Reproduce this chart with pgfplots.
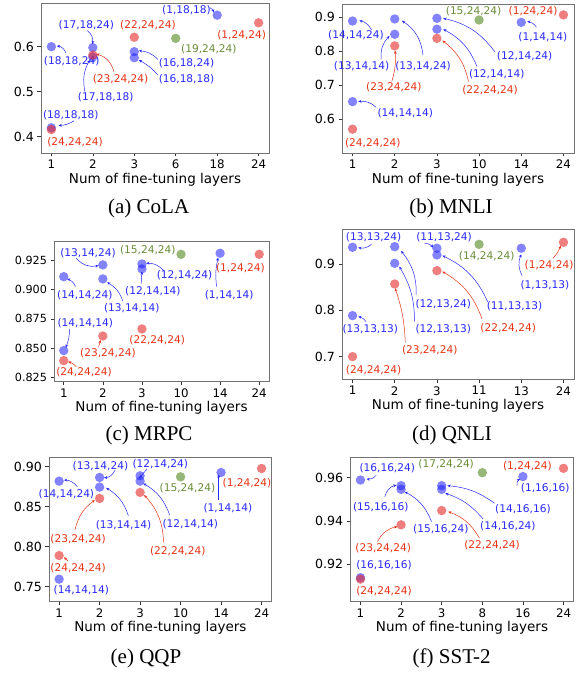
\documentclass[border=0pt]{standalone}
\usepackage{pgfplots}
\pgfplotsset{compat=1.18}
\usepackage{fontspec}
\setmainfont{DejaVu Sans}
\newfontfamily\capfont{Liberation Serif}
\usetikzlibrary{arrows.meta}
\definecolor{tblue}{RGB}{40,40,255}
\definecolor{tred}{RGB}{230,50,20}
\definecolor{tgreen}{RGB}{105,140,55}
\definecolor{pblue}{RGB}{30,30,255}
\definecolor{pred}{RGB}{228,40,40}
\definecolor{pgreen}{RGB}{80,135,30}
\newcommand{\annf}{\fontsize{10.6}{12}\selectfont}
\newcommand{\lb}[4]{\node[text=t#1,font=\annf,inner sep=0pt] at (axis cs:#2,#3) {#4};}
\newcommand{\ar}[6]{\draw[-{Stealth[length=3.2pt,width=2.8pt]},line width=0.5pt,color=t#1] (axis cs:#2,#3) to[#6] (axis cs:#4,#5);}
\pgfplotsset{
 panel/.style={scale only axis, clip=false, xmin=-0.25, xmax=5.25, xtick={0,1,2,3,4,5},
  tick pos=left, tick align=outside, major tick length=3.5pt,
  axis line style={black!55, line width=0.6pt}, major tick style={black!80, line width=0.6pt},
  xticklabel style={font=\fontsize{11.8}{12}\selectfont},
  yticklabel style={font=\fontsize{12.6}{13}\selectfont},
  xlabel={Num of fine-tuning layers},
  xlabel style={font=\fontsize{13.5}{14}\selectfont, at={(axis description cs:0.5,0)}, anchor=center, yshift=-26.5pt}},
 bp/.style={only marks, mark=*, mark size=4.7pt, color=pblue, mark options={draw opacity=0, fill=pblue, fill opacity=0.55}},
 rp/.style={only marks, mark=*, mark size=4.7pt, color=pred, mark options={draw opacity=0, fill=pred, fill opacity=0.6}},
 gp/.style={only marks, mark=*, mark size=4.7pt, color=pgreen, mark options={draw opacity=0, fill=pgreen, fill opacity=0.6}},
}
\begin{document}
\begin{tikzpicture}[x=1pt,y=1pt]
\useasboundingbox (0,0) rectangle (578,673);
% (a) CoLA
\begin{axis}[panel, at={(41pt,520pt)}, anchor=south west, width=228pt, height=150pt,
  ymin=0.364, ymax=0.697, ytick={0.4,0.5,0.6}, yticklabels={0.4,0.5,0.6},
  xticklabels={1,2,3,6,18,24}]
\addplot[bp] coordinates {(0,0.600) (0,0.420) (1,0.598) (1,0.577) (2,0.589) (2,0.5755) (4,0.670)};
\addplot[rp] coordinates {(0,0.416) (1,0.5815) (2,0.621) (5,0.653)};
\addplot[gp] coordinates {(3,0.6185)};
\lb{blue}{3.26}{0.680}{(1,18,18)}
\lb{red}{4.59}{0.626}{(1,24,24)}
\lb{red}{2.33}{0.648}{(22,24,24)}
\lb{green}{3.80}{0.594}{(19,24,24)}
\lb{blue}{0.845}{0.648}{(17,18,24)}
\lb{blue}{0.49}{0.567}{(18,18,24)}
\lb{blue}{3.26}{0.563}{(16,18,24)}
\lb{blue}{3.26}{0.527}{(16,18,18)}
\lb{red}{1.67}{0.527}{(23,24,24)}
\lb{blue}{1.31}{0.487}{(17,18,18)}
\lb{blue}{0.47}{0.448}{(18,18,18)}
\lb{red}{0.57}{0.389}{(24,24,24)}
\ar{blue}{3.82}{0.687}{3.92}{0.676}{bend left=20}
\ar{blue}{0.87}{0.6356}{0.99}{0.606}{bend left=30}
\ar{blue}{0.35}{0.5867}{0.13}{0.6015}{bend right=30}
\ar{blue}{2.57}{0.5719}{2.11}{0.591}{bend right=20}
\ar{blue}{2.57}{0.537}{2.11}{0.5704}{bend right=10}
\ar{red}{1.51}{0.5444}{1.08}{0.5837}{bend right=30}
\ar{blue}{0.81}{0.500}{0.925}{0.5704}{bend left=20}
\ar{blue}{0.55}{0.4356}{0.175}{0.4252}{bend left=15}
\end{axis}
% (b) MNLI
\begin{axis}[panel, at={(342pt,520pt)}, anchor=south west, width=232pt, height=149pt,
  ymin=0.501, ymax=0.939, ytick={0.6,0.7,0.8,0.9}, yticklabels={0.6,0.7,0.8,0.9},
  xticklabels={1,2,3,10,14,24}]
\addplot[bp] coordinates {(0,0.889) (0,0.652) (1,0.895) (1,0.850) (2,0.897) (2,0.865) (4,0.885)};
\addplot[rp] coordinates {(0,0.571) (1,0.816) (2,0.838) (5,0.907)};
\addplot[gp] coordinates {(3,0.892)};
\lb{green}{2.87}{0.919}{(15,24,24)}
\lb{red}{4.28}{0.919}{(1,24,24)}
\lb{blue}{4.51}{0.841}{(1,14,14)}
\lb{blue}{0.08}{0.848}{(14,14,24)}
\lb{blue}{4.08}{0.786}{(12,14,24)}
\lb{blue}{0.215}{0.755}{(13,14,14)}
\lb{blue}{1.67}{0.755}{(13,14,24)}
\lb{blue}{3.42}{0.733}{(12,14,14)}
\lb{red}{0.98}{0.694}{(23,24,24)}
\lb{red}{3.26}{0.686}{(22,24,24)}
\lb{blue}{1.25}{0.618}{(14,14,14)}
\lb{red}{0.48}{0.531}{(24,24,24)}
\ar{blue}{4.36}{0.8706}{4.14}{0.8873}{bend right=25}
\ar{blue}{0.45}{0.8627}{0.16}{0.8902}{bend right=25}
\ar{blue}{3.37}{0.799}{2.15}{0.897}{bend right=20}
\ar{blue}{0.68}{0.7765}{0.876}{0.845}{bend left=25}
\ar{blue}{1.67}{0.789}{1.17}{0.890}{bend right=25}
\ar{blue}{2.95}{0.7549}{2.15}{0.8647}{bend right=20}
\ar{red}{0.93}{0.7108}{1.01}{0.802}{bend right=10}
\ar{red}{2.75}{0.7108}{2.13}{0.8314}{bend right=20}
\ar{blue}{0.56}{0.6353}{0.135}{0.652}{bend right=25}
\end{axis}
% (c) MRPC
\begin{axis}[panel, at={(54pt,291.3pt)}, anchor=south west, width=215pt, height=140pt,
  ymin=0.8216, ymax=0.9405, ytick={0.825,0.85,0.875,0.9,0.925}, yticklabels={0.825,0.850,0.875,0.900,0.925},
  yticklabel style={font=\fontsize{11.2}{12}\selectfont},
  xticklabels={1,2,3,10,14,24}]
\addplot[bp] coordinates {(0,0.9108) (0,0.848) (1,0.9208) (1,0.9089) (2,0.9216) (2,0.9174) (4,0.9307)};
\addplot[rp] coordinates {(0,0.8395) (1,0.8604) (2,0.8664) (5,0.9298)};
\addplot[gp] coordinates {(3,0.9298)};
\lb{blue}{0.62}{0.9307}{(13,14,24)}
\lb{green}{2.15}{0.9335}{(15,24,24)}
\lb{red}{4.52}{0.9179}{(1,24,24)}
\lb{blue}{3.09}{0.9123}{(12,14,24)}
\lb{blue}{4.23}{0.8953}{(1,14,14)}
\lb{blue}{2.28}{0.8989}{(12,14,14)}
\lb{blue}{0.54}{0.8953}{(14,14,24)}
\lb{blue}{1.74}{0.8839}{(13,14,14)}
\lb{blue}{0.55}{0.8712}{(14,14,14)}
\lb{red}{2.39}{0.857}{(22,24,24)}
\lb{red}{1.13}{0.8457}{(23,24,24)}
\lb{red}{0.52}{0.8295}{(24,24,24)}
\ar{blue}{0.32}{0.9264}{0.89}{0.9202}{bend right=30}
\ar{blue}{2.56}{0.9157}{2.11}{0.9222}{bend right=25}
\ar{blue}{3.91}{0.9023}{3.95}{0.927}{bend left=10}
\ar{blue}{1.98}{0.905}{2.0}{0.9151}{bend left=0}
\ar{blue}{0.30}{0.9023}{0.085}{0.9089}{bend right=25}
\ar{blue}{1.51}{0.8902}{1.11}{0.906}{bend right=20}
\ar{blue}{0.15}{0.8664}{0.05}{0.8505}{bend left=10}
\ar{red}{0.89}{0.8508}{0.94}{0.857}{bend left=0}
\ar{red}{0.32}{0.8343}{0.11}{0.8386}{bend right=15}
\end{axis}
% (d) QNLI
\begin{axis}[panel, at={(342pt,293.7pt)}, anchor=south west, width=232pt, height=149.6pt,
  ymin=0.651, ymax=0.974, ytick={0.7,0.8,0.9}, yticklabels={0.7,0.8,0.9},
  xticklabels={1,2,3,11,13,24}]
\addplot[bp] coordinates {(0,0.936) (0,0.7885) (1,0.9374) (1,0.9014) (2,0.934) (2,0.9194) (4,0.934)};
\addplot[rp] coordinates {(0,0.700) (1,0.8568) (2,0.8856) (5,0.9468)};
\addplot[gp] coordinates {(3,0.9424)};
\lb{blue}{0.50}{0.9576}{(13,13,24)}
\lb{blue}{2.17}{0.9576}{(11,13,24)}
\lb{green}{3.18}{0.9158}{(14,24,24)}
\lb{red}{4.66}{0.8964}{(1,24,24)}
\lb{blue}{4.56}{0.8547}{(1,13,13)}
\lb{blue}{2.15}{0.8137}{(12,13,24)}
\lb{blue}{3.84}{0.8079}{(11,13,13)}
\lb{blue}{0.42}{0.7597}{(13,13,13)}
\lb{blue}{2.15}{0.7597}{(12,13,13)}
\lb{red}{3.69}{0.7612}{(22,24,24)}
\lb{red}{1.83}{0.713}{(23,24,24)}
\lb{red}{0.50}{0.671}{(24,24,24)}
\ar{blue}{0.45}{0.9424}{0.135}{0.9353}{bend left=25}
\ar{blue}{1.71}{0.9446}{1.91}{0.9353}{bend left=25}
\ar{red}{4.75}{0.9122}{4.94}{0.9396}{bend right=10}
\ar{blue}{4.02}{0.8748}{4.0}{0.9209}{bend left=25}
\ar{blue}{1.51}{0.8331}{1.15}{0.9281}{bend right=20}
\ar{blue}{3.21}{0.8173}{2.13}{0.918}{bend right=20}
\ar{blue}{0.32}{0.7755}{0.135}{0.7863}{bend right=20}
\ar{blue}{1.47}{0.7755}{1.11}{0.8942}{bend right=15}
\ar{red}{3.07}{0.7813}{2.13}{0.8835}{bend right=20}
\ar{red}{1.25}{0.7309}{1.01}{0.8475}{bend right=8}
\end{axis}
% (e) QQP
\begin{axis}[panel, at={(49pt,71.3pt)}, anchor=south west, width=222.7pt, height=144pt,
  ymin=0.731, ymax=0.911, ytick={0.75,0.8,0.85,0.9}, yticklabels={0.75,0.80,0.85,0.90},
  xticklabels={1,2,3,10,14,24}]
\addplot[bp] coordinates {(0,0.8817) (0,0.7592) (1,0.8863) (1,0.8742) (2,0.8884) (2,0.8817) (4,0.8925)};
\addplot[rp] coordinates {(0,0.7887) (1,0.8601) (2,0.8676) (5,0.8975)};
\addplot[gp] coordinates {(3,0.8871)};
\lb{blue}{1.02}{0.9008}{(13,14,24)}
\lb{blue}{2.50}{0.9029}{(12,14,24)}
\lb{blue}{0.18}{0.8651}{(14,14,24)}
\lb{green}{3.17}{0.8734}{(15,24,24)}
\lb{red}{4.64}{0.8788}{(1,24,24)}
\lb{blue}{4.17}{0.8485}{(1,14,14)}
\lb{blue}{1.59}{0.8269}{(13,14,14)}
\lb{blue}{3.24}{0.8281}{(12,14,14)}
\lb{red}{0.47}{0.809}{(23,24,24)}
\lb{red}{2.93}{0.7945}{(22,24,24)}
\lb{red}{0.47}{0.7729}{(24,24,24)}
\lb{blue}{0.55}{0.7459}{(14,14,14)}
\ar{blue}{1.38}{0.8954}{1.11}{0.8859}{bend left=30}
\ar{blue}{2.17}{0.8967}{1.98}{0.8859}{bend left=0}
\ar{blue}{0.45}{0.8747}{0.12}{0.883}{bend right=25}
\ar{blue}{3.94}{0.858}{3.94}{0.89}{bend left=0}
\ar{blue}{1.71}{0.8385}{1.16}{0.8734}{bend right=20}
\ar{blue}{2.73}{0.8393}{2.08}{0.8788}{bend right=20}
\ar{red}{0.39}{0.8206}{0.88}{0.858}{bend left=20}
\ar{red}{2.58}{0.8053}{2.10}{0.8643}{bend right=20}
\ar{red}{0.22}{0.782}{0.12}{0.7866}{bend left=0}
\end{axis}
% (f) SST-2
\begin{axis}[panel, at={(350.3pt,71.3pt)}, anchor=south west, width=223.4pt, height=144.4pt,
  ymin=0.9027, ymax=0.9694, ytick={0.92,0.94,0.96}, yticklabels={0.92,0.94,0.96},
  xticklabels={1,2,3,8,16,24}]
\addplot[bp] coordinates {(0,0.9589) (0,0.9138) (1,0.9563) (1,0.9546) (2,0.9563) (2,0.9546) (4,0.9605)};
\addplot[rp] coordinates {(0,0.9131) (1,0.9382) (2,0.9448) (5,0.9643)};
\addplot[gp] coordinates {(3,0.9623)};
\lb{blue}{0.66}{0.9646}{(16,16,24)}
\lb{green}{2.11}{0.9662}{(17,24,24)}
\lb{red}{4.11}{0.9655}{(1,24,24)}
\lb{blue}{4.55}{0.9551}{(1,16,16)}
\lb{blue}{0.5}{0.9462}{(15,16,16)}
\lb{blue}{4.0}{0.9455}{(14,16,16)}
\lb{blue}{1.98}{0.9363}{(15,16,24)}
\lb{blue}{3.63}{0.9378}{(14,16,24)}
\lb{red}{0.56}{0.9274}{(23,24,24)}
\lb{red}{3.24}{0.9289}{(22,24,24)}
\lb{blue}{0.58}{0.9194}{(16,16,16)}
\lb{red}{0.58}{0.9074}{(24,24,24)}
\ar{blue}{0.39}{0.9612}{0.15}{0.9594}{bend left=30}
\ar{blue}{3.86}{0.9563}{3.93}{0.9594}{bend left=40}
\ar{blue}{0.6}{0.9512}{0.885}{0.9566}{bend left=30}
\ar{blue}{3.30}{0.9482}{2.14}{0.9563}{bend right=15}
\ar{blue}{1.75}{0.9397}{1.09}{0.9535}{bend right=20}
\ar{blue}{3.02}{0.9409}{2.09}{0.9528}{bend right=15}
\ar{red}{0.42}{0.9305}{0.91}{0.9374}{bend left=25}
\ar{red}{2.93}{0.932}{2.16}{0.9443}{bend right=20}
\end{axis}
\node[font=\capfont\fontsize{21}{21}\selectfont] at (148.7,465) {(a) CoLA};
\node[font=\capfont\fontsize{21}{21}\selectfont] at (451,465) {(b) MNLI};
\node[font=\capfont\fontsize{21}{21}\selectfont] at (149,238) {(c) MRPC};
\node[font=\capfont\fontsize{21}{21}\selectfont] at (452,238) {(d) QNLI};
\node[font=\capfont\fontsize{21}{21}\selectfont] at (146,15) {(e) QQP};
\node[font=\capfont\fontsize{21}{21}\selectfont] at (451.7,15) {(f) SST-2};
\end{tikzpicture}
\end{document}
